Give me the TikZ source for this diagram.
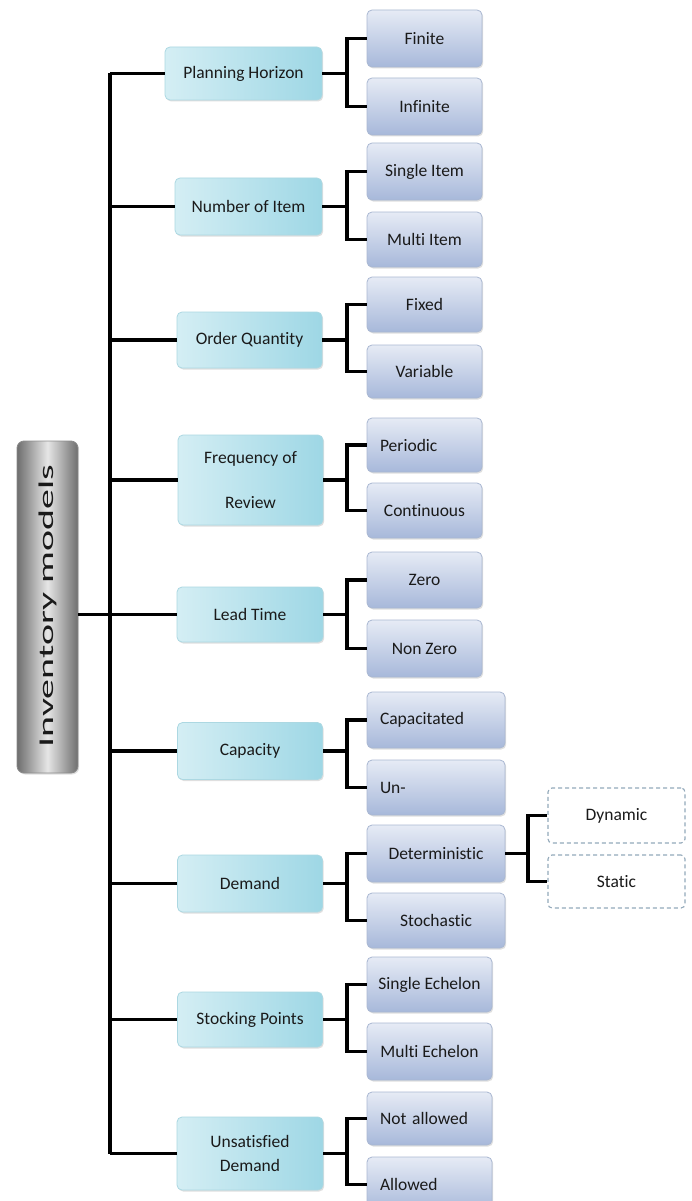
\documentclass[tikz,border=0pt]{standalone}
\usepackage{fontspec}
\setmainfont{Carlito}[Ligatures={NoCommon}]
\usetikzlibrary{shadows}
\definecolor{midL}{HTML}{D4EEF4}
\definecolor{midR}{HTML}{9ED7E5}
\definecolor{midB}{HTML}{ACD8E2}
\definecolor{leafT}{HTML}{E6EBF5}
\definecolor{leafB}{HTML}{A7B8DA}
\definecolor{leafD}{HTML}{AAB8D2}
\definecolor{rootE}{HTML}{6E6E6E}
\definecolor{rootM}{HTML}{E6E6E6}
\definecolor{dashC}{HTML}{93A9BA}
\definecolor{txt}{HTML}{1A1A1A}
\tikzset{
  boxbase/.style={rounded corners=5pt, inner sep=0pt, text=txt,
    font=\fontsize{17.5}{20}\selectfont, align=center,
    drop shadow={shadow xshift=1.2pt, shadow yshift=-1.5pt, opacity=0.25}},
  midbox/.style={boxbase, draw=midB, line width=0.8pt, left color=midL, right color=midR},
  leafbox/.style={boxbase, draw=leafD, line width=0.8pt, top color=leafT, bottom color=leafB},
  rootbox/.style={rounded corners=7pt, inner sep=0pt, draw=rootE!80, line width=0.8pt,
    left color=rootE, right color=rootE, middle color=rootM,
    drop shadow={shadow xshift=1.2pt, shadow yshift=-1.5pt, opacity=0.25}},
  dashbox/.style={rounded corners=4pt, inner sep=0pt, draw=dashC, line width=1.1pt,
    dash pattern=on 4pt off 3pt, fill=white, text=txt, font=\fontsize{17.5}{20}\selectfont},
  conn/.style={line width=3.2pt, black, line join=miter},
  leftleaf/.style={leafbox, align=left, text width=#1, inner xsep=13pt}
}
\begin{document}
\begin{tikzpicture}[x=1pt,y=-1pt]
\clip (0,0) rectangle (692,1201);
\fill[white] (0,0) rectangle (692,1201);
\coordinate (tx) at (110,0);
\coordinate (bx) at (347,0);
\coordinate (dx) at (528,0);

% root
\node[rootbox, minimum width=61pt, minimum height=332pt] (root) at (47.5,607) {};
\node[rotate=90, text=txt, font=\fontsize{21}{21}\selectfont] (roottext) at (47.5,606) {\scalebox{1.9}[1]{Inventory models}};

% middle nodes
\node[midbox, minimum width=157pt, minimum height=53pt] (ph) at (243.5,73.5) {Planning Horizon};
\node[midbox, minimum width=147pt, minimum height=57pt] (ni) at (248.5,206.5) {Number of Item};
\node[midbox, minimum width=145pt, minimum height=56pt] (oq) at (249.5,340) {Order Quantity};
\node[midbox, minimum width=145pt, minimum height=90pt, font=\fontsize{17.5}{45}\selectfont] (fr) at (250.5,480) {Frequency of\\Review};
\node[midbox, minimum width=146pt, minimum height=55pt] (lt) at (250,614.5) {Lead Time};
\node[midbox, minimum width=145pt, minimum height=57pt] (ca) at (250,751) {Capacity};
\node[midbox, minimum width=145pt, minimum height=57pt] (de) at (250,883.5) {Demand};
\node[midbox, minimum width=145pt, minimum height=55pt] (sp) at (250,1019.5) {Stocking Points};
\node[midbox, minimum width=146pt, minimum height=73pt, font=\fontsize{17.5}{24}\selectfont] (ud) at (250,1153.5) {Unsatisfied\\Demand};

% leaves
\node[leafbox, minimum width=115pt, minimum height=57pt] (fin) at (424.5,38.5) {Finite};
\node[leafbox, minimum width=115pt, minimum height=57pt] (inf) at (424.5,106.5) {Infinite};
\node[leafbox, minimum width=115pt, minimum height=57pt] (si) at (424.5,171.5) {Single Item};
\node[leafbox, minimum width=115pt, minimum height=55pt] (mi) at (424.5,239.5) {Multi Item};
\node[leafbox, minimum width=115pt, minimum height=55pt] (fx) at (424.5,304.5) {Fixed};
\node[leafbox, minimum width=115pt, minimum height=53pt] (va) at (424.5,371.5) {Variable};
\node[leftleaf=89pt, minimum height=54pt] (pe) at (424.5,445) {Periodic};
\node[leafbox, minimum width=115pt, minimum height=55pt] (co) at (424.5,510.5) {Continuous};
\node[leafbox, minimum width=115pt, minimum height=56pt] (ze) at (424.5,580) {Zero};
\node[leafbox, minimum width=115pt, minimum height=57pt] (nz) at (424.5,648.5) {Non Zero};
\node[leftleaf=112pt, minimum height=56pt] (cap) at (436,720) {Capacitated};
\node[leftleaf=112pt, minimum height=55pt] (un) at (436,787.5) {Un-};
\node[leafbox, minimum width=138pt, minimum height=57pt] (det) at (436,853.5) {Deterministic};
\node[leafbox, minimum width=138pt, minimum height=55pt] (sto) at (436,920.5) {Stochastic};
\node[leafbox, minimum width=125pt, minimum height=55pt] (se) at (429.5,984.5) {Single Echelon};
\node[leafbox, minimum width=125pt, minimum height=57pt] (me) at (429.5,1051.5) {Multi Echelon};
\node[leftleaf=99pt, minimum height=53pt] (na) at (429.5,1118.5) {Not allowed};
\node[leftleaf=99pt, minimum height=55pt] (al) at (429.5,1184.5) {Allowed};

% dashed
\node[dashbox, minimum width=137pt, minimum height=55pt] (dyn) at (616.5,815.5) {Dynamic};
\node[dashbox, minimum width=137pt, minimum height=53pt] (sta) at (616.5,881.5) {Static};

% connectors: root and trunk
\draw[conn] (root.east |- lt.west) -- (lt.west);
\draw[conn] (tx |- ph.west) -- (tx |- ud.west);
\foreach \m in {ph,ni,oq,fr,ca,de,sp,ud}{
  \draw[conn] (tx |- \m.west) -- (\m.west);
}
% branches
\foreach \m/\a/\b in {ph/fin/inf, ni/si/mi, oq/fx/va, fr/pe/co, lt/ze/nz, ca/cap/un, de/det/sto, sp/se/me, ud/na/al}{
  \draw[conn] (\m.east) -- (bx |- \m.east);
  \draw[conn] (\a.west) -- (bx |- \a.west) -- (bx |- \b.west) -- (\b.west);
}
\draw[conn] (det.east) -- (dx |- det.east);
\draw[conn] (dyn.west) -- (dx |- dyn.west) -- (dx |- sta.west) -- (sta.west);
\end{tikzpicture}
\end{document}
